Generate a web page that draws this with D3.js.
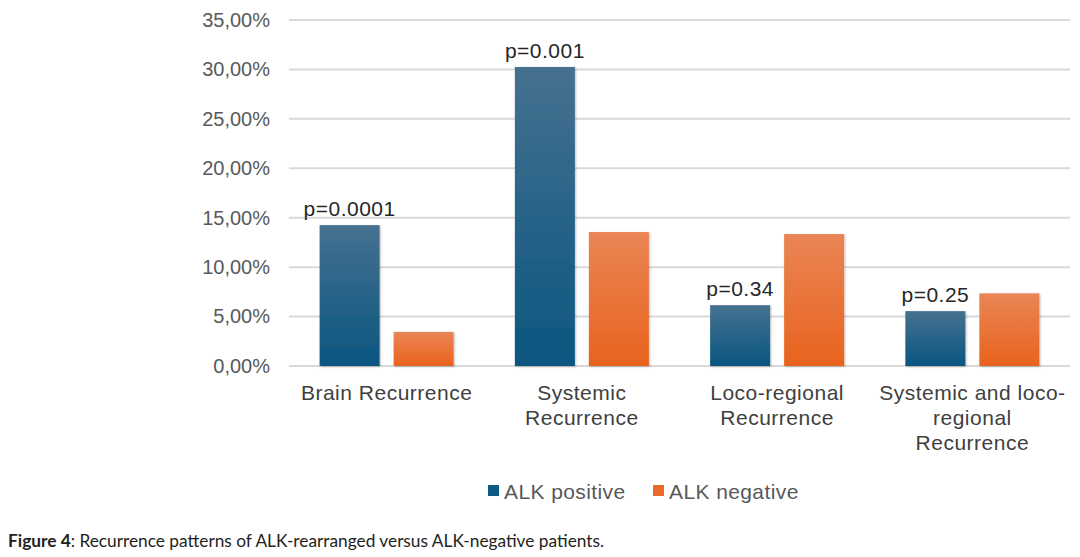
<!DOCTYPE html>
<html><head><meta charset="utf-8">
<script src="https://cdn.jsdelivr.net/npm/d3@7"></script>
<style>body{margin:0;background:#fff}svg{display:block}</style>
</head><body>
<script>
const categories = [["Brain Recurrence"],["Systemic","Recurrence"],["Loco-regional","Recurrence"],["Systemic and loco-","regional","Recurrence"]];
const seriesNames = ["ALK positive","ALK negative"];
const alkPositive = [14.25, 30.25, 6.15, 5.55];
const alkNegative = [3.45, 13.55, 13.35, 7.35];
const pLabels = ["p=0.0001","p=0.001","p=0.34","p=0.25"];
const yTicks = [0,5,10,15,20,25,30,35];

const W=1080,H=557;
const FF="Liberation Sans, Arial, sans-serif";
const svg=d3.select("body").append("svg").attr("width",W).attr("height",H);
const defs=svg.append("defs");
const gb=defs.append("linearGradient").attr("id","gBlue").attr("x1",0).attr("y1",0).attr("x2",0).attr("y2",1);
gb.append("stop").attr("offset","0%").attr("stop-color","#467190");
gb.append("stop").attr("offset","100%").attr("stop-color","#0a5680");
const go=defs.append("linearGradient").attr("id","gOrange").attr("x1",0).attr("y1",0).attr("x2",0).attr("y2",1);
go.append("stop").attr("offset","0%").attr("stop-color","#ea8555");
go.append("stop").attr("offset","100%").attr("stop-color","#e8631e");
const f=defs.append("filter").attr("id","sh").attr("x","-10%").attr("y","-10%").attr("width","130%").attr("height","130%");
f.append("feDropShadow").attr("dx",1).attr("dy",1).attr("stdDeviation",1.2).attr("flood-color","#000").attr("flood-opacity",0.25);

const x0=d3.scaleBand().domain(d3.range(categories.length)).range([289,1070]);
const y=d3.scaleLinear().domain([0,35]).range([366,20]);

const grid=svg.append("g");
grid.selectAll("line").data(yTicks).join("line")
 .attr("x1",289).attr("x2",1070).attr("y1",d=>y(d)).attr("y2",d=>y(d))
 .attr("stroke","#d9d9d9").attr("stroke-width",2);

const yAxis=d3.axisLeft(y).tickValues(yTicks).tickSize(0).tickPadding(0)
 .tickFormat(d=>d.toFixed(2).replace(".",",")+"%");
const ya=svg.append("g").attr("transform","translate(270,0)").call(yAxis);
ya.select(".domain").remove();
ya.selectAll("text").attr("font-family",FF).attr("font-size",20).attr("fill","#595959");

const bw=60, gap=14;
const bandOff=(x0.bandwidth()-2*bw-gap)/2;
const data=[alkPositive,alkNegative];
const fills=["url(#gBlue)","url(#gOrange)"];
data.forEach((vals,s)=>{
  svg.append("g").selectAll("rect").data(vals).join("rect")
   .attr("x",(d,i)=>x0(i)+bandOff+s*(bw+gap))
   .attr("y",d=>y(d)).attr("width",bw).attr("height",d=>y(0)-y(d))
   .attr("fill",fills[s]).attr("filter","url(#sh)");
});

svg.append("g").selectAll("text").data(pLabels).join("text")
 .attr("x",(d,i)=>x0(i)+bandOff+bw/2)
 .attr("y",(d,i)=>y(alkPositive[i])-9)
 .attr("text-anchor","middle").attr("font-family",FF)
 .attr("font-size",21).attr("letter-spacing",0.5).attr("fill","#262626").text(d=>d);

const cl=svg.append("g");
categories.forEach((lines,i)=>{
  const t=cl.append("text").attr("text-anchor","middle")
   .attr("font-family",FF).attr("font-size",21).attr("letter-spacing",0.5).attr("fill","#404040");
  lines.forEach((ln,j)=>t.append("tspan").attr("x",x0(i)+x0.bandwidth()/2).attr("y",400+j*25).text(ln));
});

const legColors=["#0e5a82","#ea6a28"];
const lx=[488,653];
const lg=svg.append("g");
seriesNames.forEach((n,i)=>{
  lg.append("rect").attr("x",lx[i]).attr("y",485).attr("width",11).attr("height",11).attr("fill",legColors[i]);
  lg.append("text").attr("x",lx[i]+16).attr("y",499).attr("font-family",FF)
   .attr("font-size",21).attr("letter-spacing",0.4).attr("fill","#595959").text(n);
});

const cap=svg.append("text").attr("x",8).attr("y",547).attr("font-family","Lato, sans-serif").attr("font-size",17.3).attr("fill","#231f20");
cap.append("tspan").attr("font-weight","bold").text("Figure 4");
cap.append("tspan").text(": Recurrence patterns of ALK-rearranged versus ALK-negative patients.");
</script>
</body></html>
